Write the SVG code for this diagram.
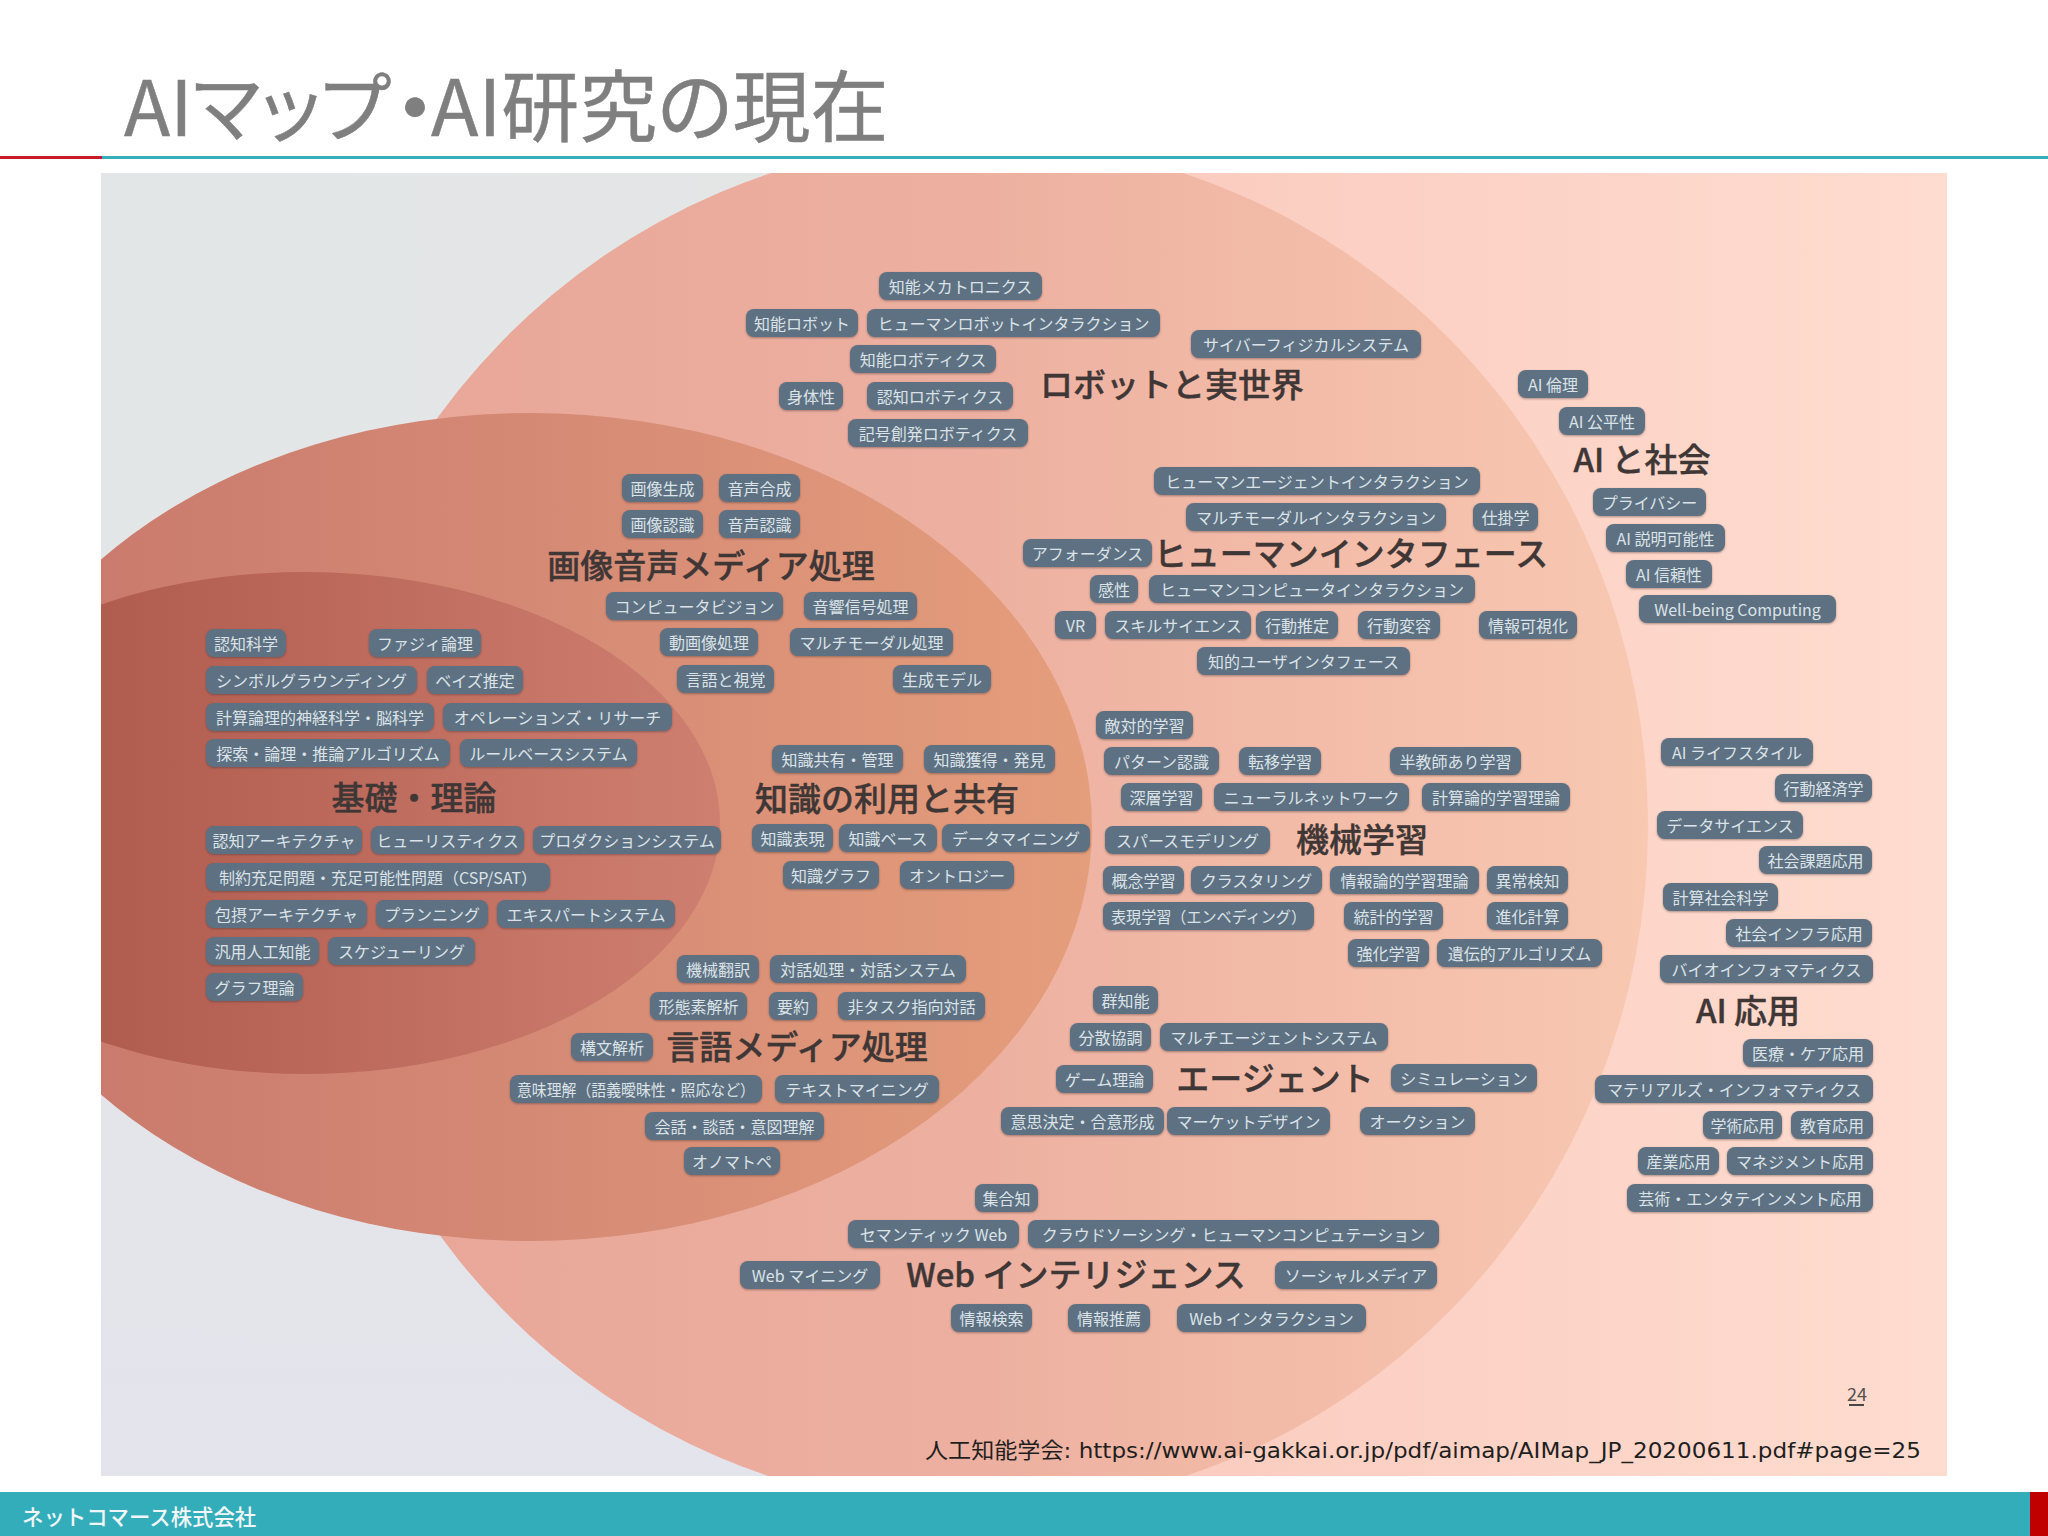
<svg xmlns="http://www.w3.org/2000/svg" width="2048" height="1536" viewBox="0 0 2048 1536">
<style>
text{font-family:"Noto Sans CJK JP","Noto Sans",sans-serif}
.p rect{fill:#5e7182;filter:drop-shadow(0 1px 1px rgba(70,50,50,.45))}
.p rect{height:28px;rx:8px}
.p text{fill:#dbe3e8;font-size:16px;text-anchor:middle;dominant-baseline:central}
.h{fill:#3f3636;font-size:33px;font-weight:500;stroke:#3f3636;stroke-width:.4px;text-anchor:middle;dominant-baseline:central}
.t{fill:#7f7f7f;stroke:#7f7f7f;stroke-width:.5px;font-feature-settings:'palt'}
</style>
<defs>
<linearGradient id="g0" gradientUnits="userSpaceOnUse" x1="101" x2="1947" y1="0" y2="0"><stop offset="0" stop-color="#e3e6e7"/><stop offset=".38" stop-color="#e4e6e6"/><stop offset=".58" stop-color="#fbccc0"/><stop offset="1" stop-color="#fedccf"/></linearGradient>
<linearGradient id="g0b" gradientUnits="userSpaceOnUse" x1="0" x2="0" y1="800" y2="1476"><stop offset="0" stop-color="#e3e4ec" stop-opacity="0"/><stop offset="1" stop-color="#e3e4ec"/></linearGradient>
<linearGradient id="g1" gradientUnits="userSpaceOnUse" x1="306" x2="1648" y1="0" y2="0"><stop offset="0" stop-color="#e7a597"/><stop offset=".5" stop-color="#edb0a0"/><stop offset="1" stop-color="#f8c8b1"/></linearGradient>
<linearGradient id="g2" gradientUnits="userSpaceOnUse" x1="101" x2="1092" y1="0" y2="0"><stop offset="0" stop-color="#ca7b6d"/><stop offset=".45" stop-color="#d58a75"/><stop offset="1" stop-color="#e59e7c"/></linearGradient>
<linearGradient id="g3" gradientUnits="userSpaceOnUse" x1="101" x2="720" y1="0" y2="0"><stop offset="0" stop-color="#b05c4f"/><stop offset="1" stop-color="#cf7f70"/></linearGradient>
<clipPath id="pc"><rect x="101" y="173" width="1846" height="1303"/></clipPath>
</defs>
<rect width="2048" height="1536" fill="#fff"/>
<g id="header">
<text class="t" y="136" font-size="76"><tspan x="124">AIマップ</tspan><tspan x="396" font-weight="700">・</tspan><tspan x="431" font-size="78">AI研究の現在</tspan></text>
<rect x="0" y="156" width="102" height="3" fill="#c8192b"/>
<rect x="102" y="156" width="1946" height="3" fill="#35adba"/>
</g>
<g id="panel" clip-path="url(#pc)">
<rect x="101" y="173" width="1846" height="1303" fill="url(#g0)"/>
<rect x="101" y="800" width="700" height="676" fill="url(#g0b)"/>
<ellipse cx="977" cy="825" rx="671" ry="685" fill="url(#g1)"/>
<ellipse cx="530" cy="827" rx="562" ry="414" fill="url(#g2)"/>
<ellipse cx="305" cy="823" rx="415" ry="251" fill="url(#g3)"/>
</g>
<g id="connectors"/>
<g id="robot" class="p">
<g id="n1"><rect x="879" y="272" width="163"/><text x="960.5" y="286">知能メカトロニクス</text></g>
<g id="n2"><rect x="746" y="309" width="112"/><text x="802" y="323">知能ロボット</text></g>
<g id="n3"><rect x="867" y="309" width="293"/><text x="1013.5" y="323">ヒューマンロボットインタラクション</text></g>
<g id="n4"><rect x="850" y="345" width="146"/><text x="923" y="359">知能ロボティクス</text></g>
<g id="n5"><rect x="1191" y="330" width="230"/><text x="1306" y="344">サイバーフィジカルシステム</text></g>
<g id="n6"><rect x="779" y="382" width="64"/><text x="811" y="396">身体性</text></g>
<g id="n7"><rect x="867" y="382" width="146"/><text x="940" y="396">認知ロボティクス</text></g>
<g id="n8"><rect x="848" y="419" width="180"/><text x="938" y="433">記号創発ロボティクス</text></g>
</g>
<g id="society" class="p">
<g id="n9"><rect x="1518" y="370" width="70"/><text x="1553" y="384">AI 倫理</text></g>
<g id="n10"><rect x="1559" y="407" width="86"/><text x="1602" y="421">AI 公平性</text></g>
<g id="n11"><rect x="1593" y="488" width="113"/><text x="1649.5" y="502">プライバシー</text></g>
<g id="n12"><rect x="1606" y="524" width="119"/><text x="1665.5" y="538">AI 説明可能性</text></g>
<g id="n13"><rect x="1626" y="560" width="86"/><text x="1669" y="574">AI 信頼性</text></g>
<g id="n14"><rect x="1639" y="595" width="197"/><text x="1737.5" y="609">Well-being Computing</text></g>
</g>
<g id="hi" class="p">
<g id="n15"><rect x="1154" y="467" width="326"/><text x="1317" y="481">ヒューマンエージェントインタラクション</text></g>
<g id="n16"><rect x="1186" y="503" width="260"/><text x="1316" y="517">マルチモーダルインタラクション</text></g>
<g id="n17"><rect x="1473" y="503" width="65"/><text x="1505.5" y="517">仕掛学</text></g>
<g id="n18"><rect x="1023" y="539" width="129"/><text x="1087.5" y="553">アフォーダンス</text></g>
<g id="n19"><rect x="1090" y="575" width="48"/><text x="1114" y="589">感性</text></g>
<g id="n20"><rect x="1149" y="575" width="326"/><text x="1312" y="589">ヒューマンコンピュータインタラクション</text></g>
<g id="n21"><rect x="1055" y="611" width="41"/><text x="1075.5" y="625">VR</text></g>
<g id="n22"><rect x="1105" y="611" width="146"/><text x="1178" y="625">スキルサイエンス</text></g>
<g id="n23"><rect x="1256" y="611" width="82"/><text x="1297" y="625">行動推定</text></g>
<g id="n24"><rect x="1358" y="611" width="82"/><text x="1399" y="625">行動変容</text></g>
<g id="n25"><rect x="1479" y="611" width="98"/><text x="1528" y="625">情報可視化</text></g>
<g id="n26"><rect x="1197" y="647" width="213"/><text x="1303.5" y="661">知的ユーザインタフェース</text></g>
</g>
<g id="ml" class="p">
<g id="n27"><rect x="1096" y="711" width="97"/><text x="1144.5" y="725">敵対的学習</text></g>
<g id="n28"><rect x="1104" y="747" width="115"/><text x="1161.5" y="761">パターン認識</text></g>
<g id="n29"><rect x="1239" y="747" width="82"/><text x="1280" y="761">転移学習</text></g>
<g id="n30"><rect x="1390" y="747" width="131"/><text x="1455.5" y="761">半教師あり学習</text></g>
<g id="n31"><rect x="1121" y="783" width="81"/><text x="1161.5" y="797">深層学習</text></g>
<g id="n32"><rect x="1214" y="783" width="195"/><text x="1311.5" y="797">ニューラルネットワーク</text></g>
<g id="n33"><rect x="1422" y="783" width="148"/><text x="1496" y="797">計算論的学習理論</text></g>
<g id="n34"><rect x="1105" y="826" width="165"/><text x="1187.5" y="840">スパースモデリング</text></g>
<g id="n35"><rect x="1103" y="866" width="81"/><text x="1143.5" y="880">概念学習</text></g>
<g id="n36"><rect x="1191" y="866" width="131"/><text x="1256.5" y="880">クラスタリング</text></g>
<g id="n37"><rect x="1330" y="866" width="149"/><text x="1404.5" y="880">情報論的学習理論</text></g>
<g id="n38"><rect x="1487" y="866" width="81"/><text x="1527.5" y="880">異常検知</text></g>
<g id="n39"><rect x="1103" y="902" width="211"/><text x="1208.5" y="916" textLength="195" lengthAdjust="spacingAndGlyphs">表現学習（エンベディング）</text></g>
<g id="n40"><rect x="1344" y="902" width="99"/><text x="1393.5" y="916">統計的学習</text></g>
<g id="n41"><rect x="1487" y="902" width="81"/><text x="1527.5" y="916">進化計算</text></g>
<g id="n42"><rect x="1348" y="939" width="81"/><text x="1388.5" y="953">強化学習</text></g>
<g id="n43"><rect x="1437" y="939" width="165"/><text x="1519.5" y="953">遺伝的アルゴリズム</text></g>
</g>
<g id="media" class="p">
<g id="n44"><rect x="622" y="474" width="81"/><text x="662.5" y="488">画像生成</text></g>
<g id="n45"><rect x="719" y="474" width="81"/><text x="759.5" y="488">音声合成</text></g>
<g id="n46"><rect x="622" y="510" width="81"/><text x="662.5" y="524">画像認識</text></g>
<g id="n47"><rect x="719" y="510" width="81"/><text x="759.5" y="524">音声認識</text></g>
<g id="n48"><rect x="606" y="592" width="177"/><text x="694.5" y="606">コンピュータビジョン</text></g>
<g id="n49"><rect x="804" y="592" width="113"/><text x="860.5" y="606">音響信号処理</text></g>
<g id="n50"><rect x="660" y="628" width="98"/><text x="709" y="642">動画像処理</text></g>
<g id="n51"><rect x="790" y="628" width="163"/><text x="871.5" y="642">マルチモーダル処理</text></g>
<g id="n52"><rect x="677" y="665" width="97"/><text x="725.5" y="679">言語と視覚</text></g>
<g id="n53"><rect x="893" y="665" width="98"/><text x="942" y="679">生成モデル</text></g>
</g>
<g id="foundation" class="p">
<g id="n54"><rect x="206" y="629" width="80"/><text x="246" y="643">認知科学</text></g>
<g id="n55"><rect x="369" y="629" width="112"/><text x="425" y="643">ファジィ論理</text></g>
<g id="n56"><rect x="206" y="666" width="211"/><text x="311.5" y="680">シンボルグラウンディング</text></g>
<g id="n57"><rect x="427" y="666" width="96"/><text x="475" y="680">ベイズ推定</text></g>
<g id="n58"><rect x="206" y="703" width="228"/><text x="320" y="717">計算論理的神経科学・脳科学</text></g>
<g id="n59"><rect x="443" y="703" width="229"/><text x="557.5" y="717">オペレーションズ・リサーチ</text></g>
<g id="n60"><rect x="206" y="739" width="244"/><text x="328" y="753">探索・論理・推論アルゴリズム</text></g>
<g id="n61"><rect x="460" y="739" width="177"/><text x="548.5" y="753">ルールベースシステム</text></g>
<g id="n62"><rect x="206" y="826" width="156"/><text x="284" y="840">認知アーキテクチャ</text></g>
<g id="n63"><rect x="371" y="826" width="153"/><text x="447.5" y="840">ヒューリスティクス</text></g>
<g id="n64"><rect x="533" y="826" width="188"/><text x="627" y="840">プロダクションシステム</text></g>
<g id="n65"><rect x="206" y="863" width="344"/><text x="378" y="877">制約充足問題・充足可能性問題（CSP/SAT）</text></g>
<g id="n66"><rect x="206" y="900" width="161"/><text x="286.5" y="914">包摂アーキテクチャ</text></g>
<g id="n67"><rect x="376" y="900" width="112"/><text x="432" y="914">プランニング</text></g>
<g id="n68"><rect x="497" y="900" width="178"/><text x="586" y="914">エキスパートシステム</text></g>
<g id="n69"><rect x="206" y="937" width="113"/><text x="262.5" y="951">汎用人工知能</text></g>
<g id="n70"><rect x="328" y="937" width="147"/><text x="401.5" y="951">スケジューリング</text></g>
<g id="n71"><rect x="206" y="973" width="97"/><text x="254.5" y="987">グラフ理論</text></g>
</g>
<g id="knowledge" class="p">
<g id="n72"><rect x="772" y="745" width="131"/><text x="837.5" y="759">知識共有・管理</text></g>
<g id="n73"><rect x="924" y="745" width="131"/><text x="989.5" y="759">知識獲得・発見</text></g>
<g id="n74"><rect x="752" y="824" width="81"/><text x="792.5" y="838">知識表現</text></g>
<g id="n75"><rect x="839" y="824" width="98"/><text x="888" y="838">知識ベース</text></g>
<g id="n76"><rect x="942" y="824" width="148"/><text x="1016" y="838">データマイニング</text></g>
<g id="n77"><rect x="783" y="861" width="96"/><text x="831" y="875">知識グラフ</text></g>
<g id="n78"><rect x="900" y="861" width="114"/><text x="957" y="875">オントロジー</text></g>
</g>
<g id="language" class="p">
<g id="n79"><rect x="677" y="955" width="82"/><text x="718" y="969">機械翻訳</text></g>
<g id="n80"><rect x="770" y="955" width="196"/><text x="868" y="969">対話処理・対話システム</text></g>
<g id="n81"><rect x="650" y="992" width="97"/><text x="698.5" y="1006">形態素解析</text></g>
<g id="n82"><rect x="769" y="992" width="48"/><text x="793" y="1006">要約</text></g>
<g id="n83"><rect x="838" y="992" width="147"/><text x="911.5" y="1006">非タスク指向対話</text></g>
<g id="n84"><rect x="571" y="1033" width="82"/><text x="612" y="1047">構文解析</text></g>
<g id="n85"><rect x="510" y="1075" width="252"/><text x="636" y="1089" textLength="238" lengthAdjust="spacingAndGlyphs">意味理解（語義曖昧性・照応など）</text></g>
<g id="n86"><rect x="775" y="1075" width="164"/><text x="857" y="1089">テキストマイニング</text></g>
<g id="n87"><rect x="645" y="1112" width="179"/><text x="734.5" y="1126">会話・談話・意図理解</text></g>
<g id="n88"><rect x="684" y="1147" width="96"/><text x="732" y="1161">オノマトペ</text></g>
</g>
<g id="agent" class="p">
<g id="n89"><rect x="1093" y="986" width="65"/><text x="1125.5" y="1000">群知能</text></g>
<g id="n90"><rect x="1070" y="1023" width="81"/><text x="1110.5" y="1037">分散協調</text></g>
<g id="n91"><rect x="1160" y="1023" width="228"/><text x="1274" y="1037">マルチエージェントシステム</text></g>
<g id="n92"><rect x="1056" y="1065" width="97"/><text x="1104.5" y="1079">ゲーム理論</text></g>
<g id="n93"><rect x="1391" y="1064" width="146"/><text x="1464" y="1078">シミュレーション</text></g>
<g id="n94"><rect x="1001" y="1107" width="163"/><text x="1082.5" y="1121">意思決定・合意形成</text></g>
<g id="n95"><rect x="1167" y="1107" width="163"/><text x="1248.5" y="1121">マーケットデザイン</text></g>
<g id="n96"><rect x="1360" y="1107" width="115"/><text x="1417.5" y="1121">オークション</text></g>
</g>
<g id="web" class="p">
<g id="n97"><rect x="975" y="1184" width="63"/><text x="1006.5" y="1198">集合知</text></g>
<g id="n98"><rect x="848" y="1220" width="171"/><text x="933.5" y="1234">セマンティック Web</text></g>
<g id="n99"><rect x="1028" y="1220" width="411"/><text x="1233.5" y="1234">クラウドソーシング・ヒューマンコンピュテーション</text></g>
<g id="n100"><rect x="740" y="1261" width="140"/><text x="810" y="1275">Web マイニング</text></g>
<g id="n101"><rect x="1275" y="1261" width="162"/><text x="1356" y="1275">ソーシャルメディア</text></g>
<g id="n102"><rect x="951" y="1304" width="81"/><text x="991.5" y="1318">情報検索</text></g>
<g id="n103"><rect x="1068" y="1304" width="82"/><text x="1109" y="1318">情報推薦</text></g>
<g id="n104"><rect x="1177" y="1304" width="189"/><text x="1271.5" y="1318">Web インタラクション</text></g>
</g>
<g id="apps" class="p">
<g id="n105"><rect x="1661" y="738" width="152"/><text x="1737" y="752">AI ライフスタイル</text></g>
<g id="n106"><rect x="1775" y="774" width="97"/><text x="1823.5" y="788">行動経済学</text></g>
<g id="n107"><rect x="1657" y="811" width="146"/><text x="1730" y="825">データサイエンス</text></g>
<g id="n108"><rect x="1759" y="846" width="113"/><text x="1815.5" y="860">社会課題応用</text></g>
<g id="n109"><rect x="1663" y="883" width="115"/><text x="1720.5" y="897">計算社会科学</text></g>
<g id="n110"><rect x="1726" y="919" width="146"/><text x="1799" y="933">社会インフラ応用</text></g>
<g id="n111"><rect x="1660" y="955" width="213"/><text x="1766.5" y="969">バイオインフォマティクス</text></g>
<g id="n112"><rect x="1743" y="1039" width="130"/><text x="1808" y="1053">医療・ケア応用</text></g>
<g id="n113"><rect x="1595" y="1075" width="278"/><text x="1734" y="1089">マテリアルズ・インフォマティクス</text></g>
<g id="n114"><rect x="1703" y="1111" width="79"/><text x="1742.5" y="1125">学術応用</text></g>
<g id="n115"><rect x="1791" y="1111" width="82"/><text x="1832" y="1125">教育応用</text></g>
<g id="n116"><rect x="1638" y="1147" width="81"/><text x="1678.5" y="1161">産業応用</text></g>
<g id="n117"><rect x="1727" y="1147" width="146"/><text x="1800" y="1161">マネジメント応用</text></g>
<g id="n118"><rect x="1627" y="1184" width="246"/><text x="1750" y="1198">芸術・エンタテインメント応用</text></g>
</g>
<g id="headings">
<text class="h" x="1172" y="383">ロボットと実世界</text>
<text class="h" x="1642" y="458">AI と社会</text>
<text class="h" x="1351" y="552">ヒューマンインタフェース</text>
<text class="h" x="711" y="564">画像音声メディア処理</text>
<text class="h" x="414" y="796">基礎・理論</text>
<text class="h" x="887" y="797">知識の利用と共有</text>
<text class="h" x="1362" y="838">機械学習</text>
<text class="h" x="1748" y="1009">AI 応用</text>
<text class="h" x="797" y="1045">言語メディア処理</text>
<text class="h" x="1275" y="1077">エージェント</text>
<text class="h" x="1076" y="1273">Web インテリジェンス</text>
</g>
<g id="notes">
<text x="1857" y="1393" font-size="18" fill="#55504e" text-anchor="middle" dominant-baseline="central">24</text>
<rect x="1849" y="1404" width="15" height="2" fill="#4a4644"/>
<text x="925" y="1458" font-size="21.5" fill="#1f1f1f" style="font-family:'DejaVu Sans','Noto Sans CJK JP',sans-serif" textLength="996" lengthAdjust="spacingAndGlyphs">人工知能学会: https://www.ai-gakkai.or.jp/pdf/aimap/AIMap_JP_20200611.pdf#page=25</text>
</g>
<g id="footer">
<rect x="0" y="1492" width="2048" height="44" fill="#33adba"/>
<rect x="2030" y="1492" width="18" height="44" fill="#c00000"/>
<text x="22" y="1525" font-size="21.4" font-weight="500" fill="#f0f6f7">ネットコマース株式会社</text>
</g>
</svg>
